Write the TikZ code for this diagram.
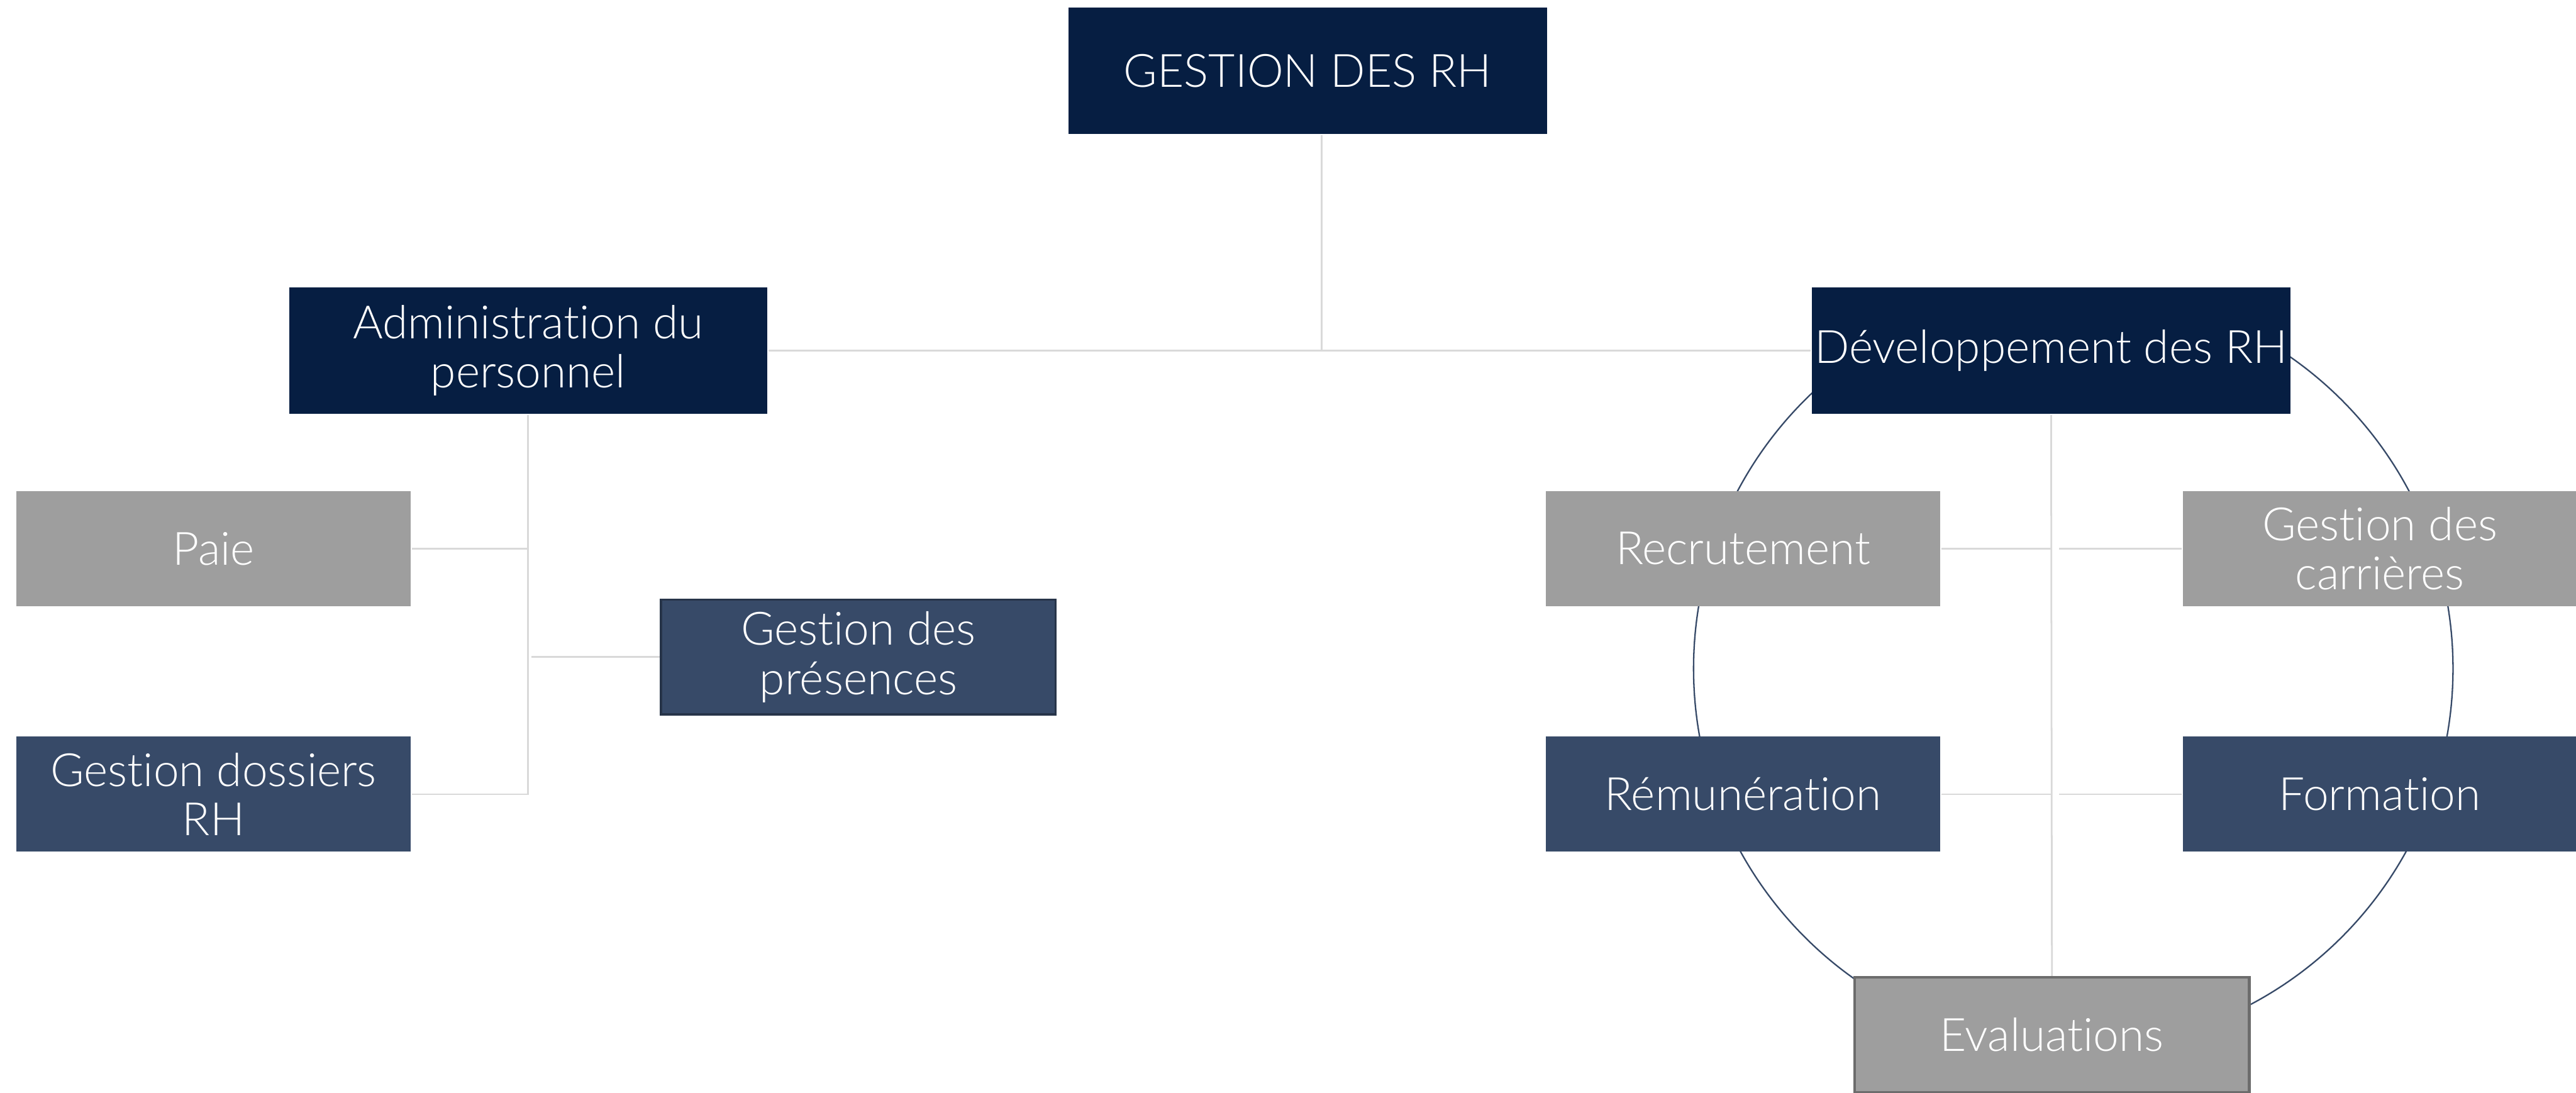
\documentclass[tikz,border=0pt]{standalone}
\usepackage{fontspec}
\setmainfont{Lato}[UprightFont=* Light, Ligatures=NoCommon]
\usetikzlibrary{positioning}
\definecolor{rhnavy}{HTML}{061E42}
\definecolor{rhslate}{HTML}{374A68}
\definecolor{rhgray}{HTML}{9E9E9E}
\definecolor{rhline}{HTML}{D9D9D9}
\tikzset{node distance=0.78cm and 1.48cm, % Gaps between the boxes. Change if necessary.
      every node/.style={ % Sets the properties for each box
      align=center,
      inner sep=0pt,
      text=white,
      font=\fontsize{7.95}{8.5}\selectfont},
      head/.style={fill=rhnavy, minimum width=2.91cm, minimum height=0.77cm},
      subtask/.style={fill=rhslate, minimum width=2.40cm, minimum height=0.70cm},
      task/.style={fill=rhgray, minimum width=2.40cm, minimum height=0.70cm},
      link/.style={draw=rhline, line width=0.3pt}, % Light grey connectors
      cycle/.style={draw=rhslate, line width=0.25pt}}

\begin{document}
\begin{tikzpicture}[x=0.01cm, y=-0.01cm]
      \useasboundingbox (0,0) rectangle (1568,665);
      \coordinate (hub) at (1262,407);
      \draw[cycle] (hub) circle[radius=2.31cm];
      \node[head] (top) at (796,43) {GESTION DES RH};
      \node[head] (admin) at (321.5,213.5) {Administration du\\personnel};
      \node[head] (dev) at (1248.5,213.5) {Développement des RH};
      \node[task] (paie) at (130,334) {Paie};
      \node[subtask, below=of paie] (dossiers) {Gestion dossiers\\RH};
      \node[subtask, draw=rhslate!70!black, line width=0.4pt] (presences) at (522.5,400) {Gestion des\\présences};
      \node[task] (recrut) at (1061,334) {Recrutement};
      \node[task, right=1.46cm of recrut] (carrieres) {Gestion des\\carrières};
      \node[subtask, below=of recrut] (remun) {Rémunération};
      \node[subtask, right=1.46cm of remun] (formation) {Formation};
      \node[task, draw=gray!85!black, line width=0.5pt] (evaluations) at (1249,630) {Evaluations};
      \draw[link] ([xshift=0.085cm]top.south) -- ([xshift=0.085cm]top.south |- admin.east);
      \draw[link] (admin.east) -- (dev.west);
      \draw[link] (admin.south) |- (dossiers.east);
      \draw[link] (paie.east) -- (paie.east -| admin.south);
      \draw[link] (presences.west) -- ([xshift=0.02cm]presences.west -| admin.south);
      \draw[link] (dev.south) -- (evaluations.north);
      \draw[link] (recrut.east) -- (recrut.east -| dev.south);
      \draw[link] (carrieres.west) -- ([xshift=0.05cm]carrieres.west -| dev.south);
      \draw[link] (remun.east) -- (remun.east -| dev.south);
      \draw[link] (formation.west) -- ([xshift=0.05cm]formation.west -| dev.south);
    \end{tikzpicture}
\end{document}
